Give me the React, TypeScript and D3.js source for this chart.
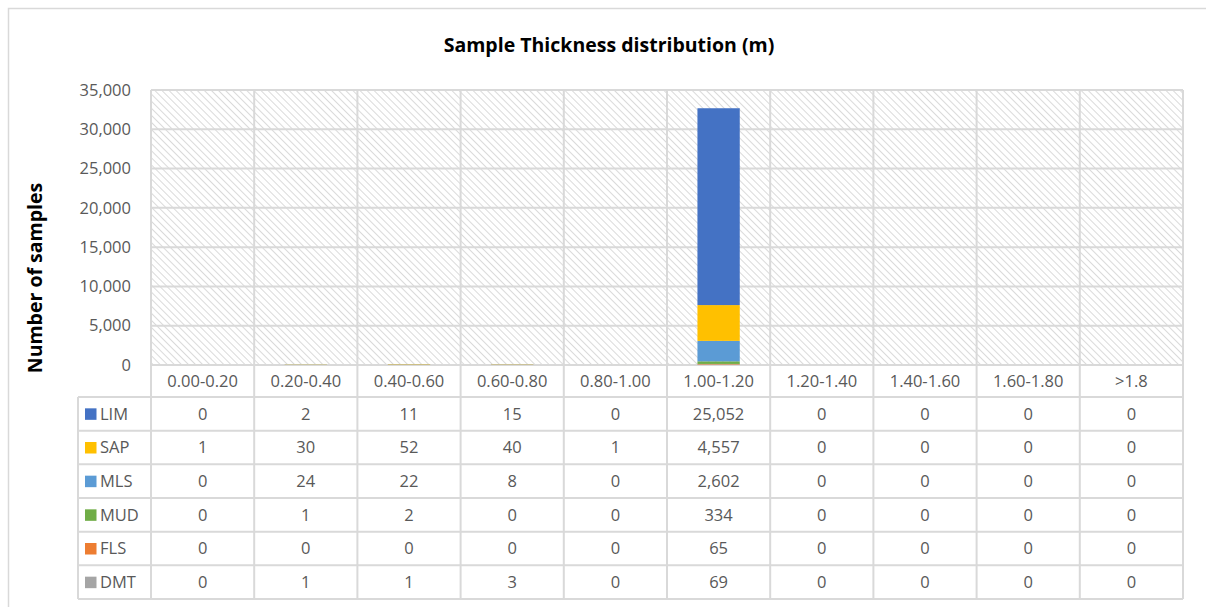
import React from "react";
import * as d3 from "d3";

const categories = ["0.00-0.20", "0.20-0.40", "0.40-0.60", "0.60-0.80", "0.80-1.00", "1.00-1.20", "1.20-1.40", "1.40-1.60", "1.60-1.80", ">1.8"];
const seriesNames = ["LIM", "SAP", "MLS", "MUD", "FLS", "DMT"];
const seriesColors = ["#4472C4", "#FFC000", "#5B9BD5", "#70AD47", "#ED7D31", "#A5A5A5"];
const LIM = [0, 2, 11, 15, 0, 25052, 0, 0, 0, 0];
const SAP = [1, 30, 52, 40, 1, 4557, 0, 0, 0, 0];
const MLS = [0, 24, 22, 8, 0, 2602, 0, 0, 0, 0];
const MUD = [0, 1, 2, 0, 0, 334, 0, 0, 0, 0];
const FLS = [0, 0, 0, 0, 0, 65, 0, 0, 0, 0];
const DMT = [0, 1, 1, 3, 0, 69, 0, 0, 0, 0];
const yTicks = [0, 5000, 10000, 15000, 20000, 25000, 30000, 35000];

const seriesValues = [LIM, SAP, MLS, MUD, FLS, DMT];
const FONT = "'Segoe UI', 'Open Sans', 'Noto Sans', sans-serif";
const GRID = "#d9d9d9";
const TEXT = "#595959";
const FS = 16.5;

const App = () => {
  const plotLeft = 151, plotRight = 1183, plotTop = 90, plotBottom = 365;
  const tableTop = 397, tableBottom = 599, legendLeft = 78;

  const x = d3.scaleBand().domain(categories).range([plotLeft, plotRight]).padding(0);
  const y = d3.scaleLinear().domain([0, 35000]).range([plotBottom, plotTop]);
  const rows = d3.scaleBand().domain(seriesNames).range([tableTop, tableBottom]);

  // rows for stacking: first table series ends up on top
  const table = categories.map((c, i) => {
    const r: any = { cat: c };
    seriesNames.forEach((s, j) => (r[s] = seriesValues[j][i]));
    return r;
  });
  const stackKeys = [...seriesNames].reverse();
  const stacked = d3.stack().keys(stackKeys)(table);
  const colorOf = d3.scaleOrdinal<string, string>().domain(seriesNames).range(seriesColors);

  const bw = x.bandwidth();
  const barW = bw * 0.41;
  const fmt = d3.format(",");
  const bounds = [...categories.map((c) => x(c) as number), plotRight];

  return (
    <svg width={1206} height={607} style={{ position: "absolute", left: 0, top: 0 }} fontFamily={FONT}>
      <defs>
        <pattern id="hatch" width="5" height="5" patternUnits="userSpaceOnUse" patternTransform="rotate(-45)">
          <rect width="5" height="5" fill="#fff" />
          <line x1="0" y1="0" x2="0" y2="5" stroke="#dadada" strokeWidth="2" />
        </pattern>
      </defs>
      <rect x={0} y={0} width={1206} height={607} fill="#fff" />
      <rect x={8.5} y={8.5} width={1220} height={620} fill="none" stroke={GRID} strokeWidth={1.5} />

      <text x={609} y={52} textAnchor="middle" fontSize={19.5} fontWeight="bold" fill="#000">
        Sample Thickness distribution (m)
      </text>
      <text transform={`translate(42,${278}) rotate(-90)`} textAnchor="middle" fontSize={19.5} fontWeight="bold" fill="#000">
        Number of samples
      </text>

      <rect x={plotLeft} y={plotTop} width={plotRight - plotLeft} height={plotBottom - plotTop} fill="url(#hatch)" />

      {yTicks.map((t) => (
        <g key={t}>
          <line x1={plotLeft} x2={plotRight} y1={y(t)} y2={y(t)} stroke={GRID} strokeWidth={2} />
          <text x={131} y={y(t)} dy="0.35em" textAnchor="end" fontSize={FS} fill={TEXT}>
            {fmt(t)}
          </text>
        </g>
      ))}

      {bounds.map((b, i) => (
        <line key={i} x1={b} x2={b} y1={plotTop} y2={tableBottom} stroke={GRID} strokeWidth={2} />
      ))}

      {stacked.map((layer) => (
        <g key={layer.key} fill={colorOf(layer.key)}>
          {layer.map((d, i) =>
            d[1] - d[0] > 0 ? (
              <rect
                key={i}
                x={(x(categories[i]) as number) + (bw - barW) / 2}
                width={barW}
                y={y(d[1])}
                height={y(d[0]) - y(d[1])}
              />
            ) : null
          )}
        </g>
      ))}

      {categories.map((c) => (
        <text key={c} x={(x(c) as number) + bw / 2} y={(plotBottom + tableTop) / 2} dy="0.35em" textAnchor="middle" fontSize={FS} fill={TEXT}>
          {c}
        </text>
      ))}

      {seriesNames.map((s, j) => {
        const ry = rows(s) as number;
        const rh = rows.bandwidth();
        return (
          <g key={s}>
            <line x1={legendLeft} x2={plotRight} y1={ry} y2={ry} stroke={GRID} strokeWidth={2} />
            <rect x={85} y={ry + rh / 2 - 5.5} width={11.5} height={11.5} fill={colorOf(s)} />
            <text x={100} y={ry + rh / 2} dy="0.35em" fontSize={FS} fill={TEXT}>
              {s}
            </text>
            {categories.map((c, i) => (
              <text key={c} x={(x(c) as number) + bw / 2} y={ry + rh / 2} dy="0.35em" textAnchor="middle" fontSize={FS} fill={TEXT}>
                {fmt(seriesValues[j][i])}
              </text>
            ))}
          </g>
        );
      })}
      <line x1={legendLeft} x2={plotRight} y1={tableBottom} y2={tableBottom} stroke={GRID} strokeWidth={2} />
      <line x1={legendLeft} x2={legendLeft} y1={tableTop} y2={tableBottom} stroke={GRID} strokeWidth={2} />
    </svg>
  );
};

export default App;
